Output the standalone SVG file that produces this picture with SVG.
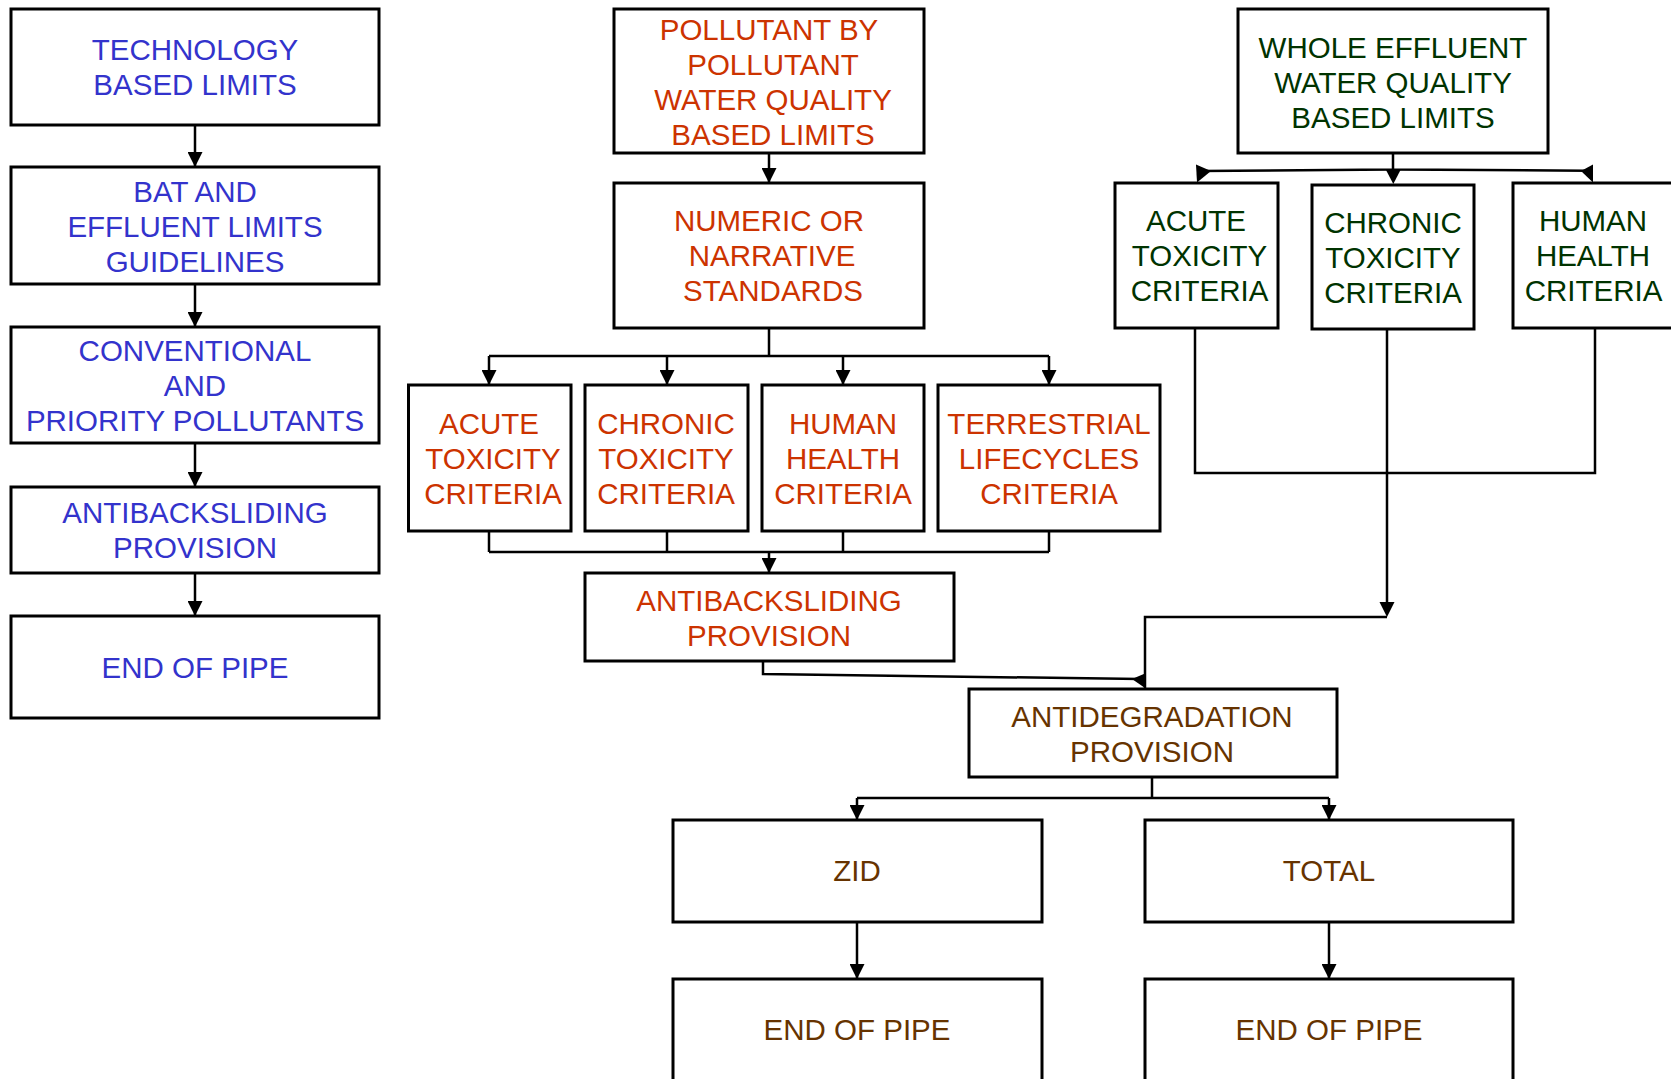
<svg xmlns="http://www.w3.org/2000/svg" width="1671" height="1079" viewBox="0 0 1671 1079">
<defs>
<marker id="arr" markerUnits="userSpaceOnUse" markerWidth="15" markerHeight="15" refX="15" refY="7.5" orient="auto">
<path d="M0,0 L15,7.5 L0,15 z" fill="#000"/>
</marker>
<style>
.box{fill:#fff;stroke:#000;stroke-width:3}
text{font-family:"Liberation Sans",Arial,sans-serif;font-size:29.5px;text-anchor:middle}
.b{fill:#3333CC}
.r{fill:#CC3300}
.g{fill:#003300}
.n{fill:#663300}
.c{fill:none;stroke:#000;stroke-width:2.5}
.a{marker-end:url(#arr)}
.h{fill:#000}
</style>
</defs>
<rect width="1671" height="1079" fill="#fff"/>

<g id="connectors">
<path class="c a" d="M195,125 V167"/>
<path class="c a" d="M195,284 V327"/>
<path class="c a" d="M195,443 V487"/>
<path class="c a" d="M195,573 V616"/>

<path class="c a" d="M769,153 V183"/>
<path class="c" d="M769,328 V356 M489,356 H1049"/>
<path class="c a" d="M489,356 V385"/>
<path class="c a" d="M667,356 V385"/>
<path class="c a" d="M843,356 V385"/>
<path class="c a" d="M1049,356 V385"/>
<path class="c" d="M489,531 V552 M667,531 V552 M843,531 V552 M1049,531 V552 M489,552 H1049"/>
<path class="c a" d="M769,552 V573"/>
<path class="c" d="M763,661 V674 L1140,679"/>

<path class="c" d="M1393,153 V170 M1200,171 L1393,169.5 L1588,170.7"/>
<polygon class="h" points="1386,170 1400.5,170 1393.3,184"/>
<polygon class="h" points="1196,164.5 1211,171 1197,182.5"/>
<polygon class="h" points="1593,164.5 1581,171 1593,182.5"/>
<path class="c" d="M1195,328 V473 H1595 V328"/>
<path class="c" d="M1387,329 V610"/>
<polygon class="h" points="1379.5,602 1394.5,602 1387,617"/>
<path class="c" d="M1387,617 H1145 V688"/>
<polygon class="h" points="1132,679 1145,673.5 1145,688"/>

<path class="c" d="M1152,777 V798 M857,798 H1329"/>
<path class="c a" d="M857,798 V820"/>
<path class="c a" d="M1329,798 V820"/>
<path class="c a" d="M857,922 V979"/>
<path class="c a" d="M1329,922 V979"/>
</g>

<g id="tech">
<rect class="box" x="11" y="9" width="368" height="116"/>
<text class="b" x="195" y="60">TECHNOLOGY</text>
<text class="b" x="195" y="95">BASED LIMITS</text>
</g>
<g id="bat">
<rect class="box" x="11" y="167" width="368" height="117"/>
<text class="b" x="195" y="202">BAT AND</text>
<text class="b" x="195" y="237">EFFLUENT LIMITS</text>
<text class="b" x="195" y="272">GUIDELINES</text>
</g>
<g id="conventional">
<rect class="box" x="11" y="327" width="368" height="116"/>
<text class="b" x="195" y="360.5">CONVENTIONAL</text>
<text class="b" x="195" y="395.5">AND</text>
<text class="b" x="195" y="430.5">PRIORITY POLLUTANTS</text>
</g>
<g id="antibacksliding-left">
<rect class="box" x="11" y="487" width="368" height="86"/>
<text class="b" x="195" y="523">ANTIBACKSLIDING</text>
<text class="b" x="195" y="558">PROVISION</text>
</g>
<g id="endpipe-left">
<rect class="box" x="11" y="616" width="368" height="102"/>
<text class="b" x="195" y="678">END OF PIPE</text>
</g>

<g id="pollutant">
<rect class="box" x="614" y="9" width="310" height="144"/>
<text class="r" x="769" y="40">POLLUTANT BY</text>
<text class="r" x="773" y="75">POLLUTANT</text>
<text class="r" x="773" y="110">WATER QUALITY</text>
<text class="r" x="773" y="145">BASED LIMITS</text>
</g>
<g id="numeric">
<rect class="box" x="614" y="183" width="310" height="145"/>
<text class="r" x="769" y="231">NUMERIC OR</text>
<text class="r" x="772" y="266">NARRATIVE</text>
<text class="r" x="773" y="301">STANDARDS</text>
</g>
<g id="acute-red">
<rect class="box" x="408.5" y="385" width="162.5" height="146"/>
<text class="r" x="489" y="433.5">ACUTE</text>
<text class="r" x="493" y="468.5">TOXICITY</text>
<text class="r" x="493" y="503.5">CRITERIA</text>
</g>
<g id="chronic-red">
<rect class="box" x="585" y="385" width="163" height="146"/>
<text class="r" x="666" y="433.5">CHRONIC</text>
<text class="r" x="666" y="468.5">TOXICITY</text>
<text class="r" x="666" y="503.5">CRITERIA</text>
</g>
<g id="human-red">
<rect class="box" x="762" y="385" width="162" height="146"/>
<text class="r" x="843" y="433.5">HUMAN</text>
<text class="r" x="843" y="468.5">HEALTH</text>
<text class="r" x="843" y="503.5">CRITERIA</text>
</g>
<g id="terrestrial-red">
<rect class="box" x="938" y="385" width="222" height="146"/>
<text class="r" x="1049" y="433.5">TERRESTRIAL</text>
<text class="r" x="1049" y="468.5">LIFECYCLES</text>
<text class="r" x="1049" y="503.5">CRITERIA</text>
</g>
<g id="antibacksliding-red">
<rect class="box" x="585" y="573" width="369" height="88"/>
<text class="r" x="769" y="610.5">ANTIBACKSLIDING</text>
<text class="r" x="769" y="645.5">PROVISION</text>
</g>

<g id="whole-effluent">
<rect class="box" x="1238" y="9" width="310" height="144"/>
<text class="g" x="1393" y="57.5">WHOLE EFFLUENT</text>
<text class="g" x="1393" y="92.5">WATER QUALITY</text>
<text class="g" x="1393" y="127.5">BASED LIMITS</text>
</g>
<g id="acute-green">
<rect class="box" x="1115" y="183" width="163" height="145"/>
<text class="g" x="1196" y="231">ACUTE</text>
<text class="g" x="1199.5" y="266">TOXICITY</text>
<text class="g" x="1199.5" y="301">CRITERIA</text>
</g>
<g id="chronic-green">
<rect class="box" x="1312" y="185" width="162" height="144"/>
<text class="g" x="1393" y="233">CHRONIC</text>
<text class="g" x="1393" y="268">TOXICITY</text>
<text class="g" x="1393" y="303">CRITERIA</text>
</g>
<g id="human-green">
<rect class="box" x="1513" y="183" width="200" height="145"/>
<text class="g" x="1593" y="231">HUMAN</text>
<text class="g" x="1593" y="266">HEALTH</text>
<text class="g" x="1593.5" y="301">CRITERIA</text>
</g>

<g id="antidegradation">
<rect class="box" x="969" y="689" width="368" height="88"/>
<text class="n" x="1152" y="726.5">ANTIDEGRADATION</text>
<text class="n" x="1152" y="761.5">PROVISION</text>
</g>
<g id="zid">
<rect class="box" x="673" y="820" width="369" height="102"/>
<text class="n" x="857" y="881">ZID</text>
</g>
<g id="total">
<rect class="box" x="1145" y="820" width="368" height="102"/>
<text class="n" x="1329" y="881">TOTAL</text>
</g>
<g id="endpipe-zid">
<rect class="box" x="673" y="979" width="369" height="120"/>
<text class="n" x="857" y="1040">END OF PIPE</text>
</g>
<g id="endpipe-total">
<rect class="box" x="1145" y="979" width="368" height="120"/>
<text class="n" x="1329" y="1040">END OF PIPE</text>
</g>
</svg>
